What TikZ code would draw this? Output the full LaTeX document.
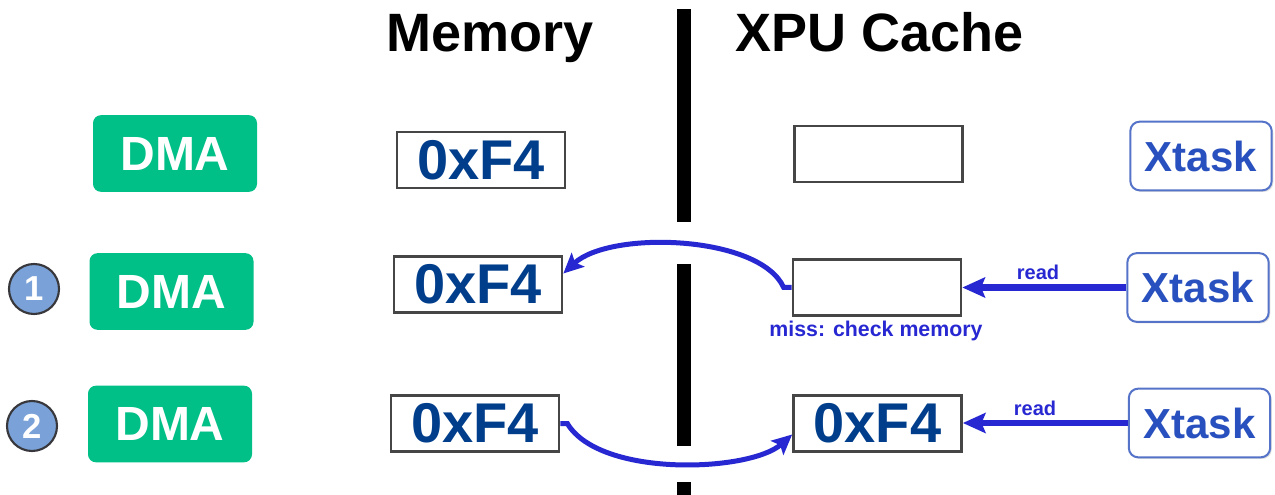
\documentclass[tikz,border=0pt]{standalone}
\usepackage{fontspec}
\setmainfont{Liberation Sans}
\usetikzlibrary{arrows.meta,calc,shadows}

\definecolor{dmagreen}{RGB}{0,192,135}
\definecolor{memblue}{RGB}{0,62,140}
\definecolor{xtblue}{RGB}{40,80,190}
\definecolor{xtborder}{RGB}{85,115,200}
\definecolor{arrowblue}{RGB}{40,40,210}
\definecolor{numfill}{RGB}{122,162,216}
\definecolor{numborder}{RGB}{55,55,60}
\definecolor{boxgray}{RGB}{70,70,70}

\begin{document}
\begin{tikzpicture}[x=0.75pt,y=-0.75pt,
  title/.style={anchor=base, inner sep=0pt, font=\bfseries\fontsize{40.5}{46}\selectfont},
  dmabox/.style={fill=dmagreen, rounded corners=6pt, minimum width=123pt,
    minimum height=57.5pt, inner sep=0pt, text=white,
    font=\bfseries\fontsize{36}{40}\selectfont},
  valbox/.style={draw=boxgray, line width=2pt, fill=white, minimum width=126pt,
    minimum height=42pt, inner sep=0pt, text=memblue,
    font=\bfseries\fontsize{42}{46}\selectfont},
  xtbox/.style={draw=xtborder, line width=1.5pt, fill=white, rounded corners=7pt,
    minimum width=106pt, minimum height=51.5pt, inner sep=0pt, text=xtblue,
    font=\bfseries\fontsize{31.5}{36}\selectfont,
    drop shadow={shadow xshift=1.2pt, shadow yshift=-1.2pt, fill=black, opacity=0.12}},
  stepnum/.style={circle, draw=numborder, line width=1.6pt, fill=numfill,
    minimum size=37.5pt, inner sep=0pt, text=white,
    font=\bfseries\fontsize{26}{28}\selectfont},
  readarrow/.style={draw=arrowblue, line width=5pt,
    -{Stealth[length=17pt,width=15pt,inset=3pt]}},
  fetcharrow/.style={draw=arrowblue, line width=3.75pt,
    -{Stealth[length=15pt,width=14pt,inset=3pt]}},
  note/.style={anchor=base, inner sep=0pt, text=arrowblue},
  divider/.style={fill=black}
]
\useasboundingbox (0,0) rectangle (1275,495);

% column headings
\node[title] (hmem) at (490,52) {Memory};
\node[title] (hxpu) at (880,52) {XPU Cache};

% divider between memory and cache
\fill[divider] (677,9) rectangle (691,222);
\fill[divider] (677,264) rectangle (691,446);
\fill[divider] (677,482) rectangle (691,495);

% row 0: initial state
\node[dmabox] (dma1) at (175,153.5) {DMA};
\node[valbox] (mem1) at (481,160) {0xF4};
\node[valbox] (cache1) at (878.5,154) {};
\node[xtbox] (xt1) at (1201,156) {Xtask};

% row 1: cache miss
\node[stepnum] (n1) at (34,289) {1};
\node[dmabox] (dma2) at (171.5,291.5) {DMA};
\node[valbox] (mem2) at (478,284.5) {0xF4};
\node[valbox] (cache2) at (877,287.5) {};
\node[xtbox] (xt2) at (1198,287.5) {Xtask};

% row 2: value fetched into cache
\node[stepnum] (n2) at (32,426) {2};
\node[dmabox] (dma3) at (170,424) {DMA};
\node[valbox] (mem3) at (475,423.5) {0xF4};
\node[valbox] (cache3) at (877.5,423.5) {0xF4};
\node[xtbox] (xt3) at (1199.5,423) {Xtask};

% read requests
\draw[readarrow] (xt2.west) -- (cache2.east |- xt2.west);
\node[note, font=\bfseries\fontsize{15}{17}\selectfont] (rd2) at (1038,280) {read};
\draw[readarrow] (xt3.west) -- (cache3.east |- xt3.west);
\node[note, font=\bfseries\fontsize{15}{17}\selectfont] (rd3) at (1035,416) {read};

% miss: look up memory
\node[note, font=\bfseries\fontsize{16}{18}\selectfont] (miss) at (876,337) {miss: check memory};
\draw[fetcharrow] (cache2.west) -- ++(-8,0)
  .. controls (760,235) and (610,230) .. ($(mem2.east)+(0,-11)$);

% fill: memory to cache
\draw[fetcharrow] (mem3.east) -- ++(7,0)
  .. controls (600,478) and (750,472) .. ($(cache3.west)+(0,11)$);
\end{tikzpicture}
\end{document}
